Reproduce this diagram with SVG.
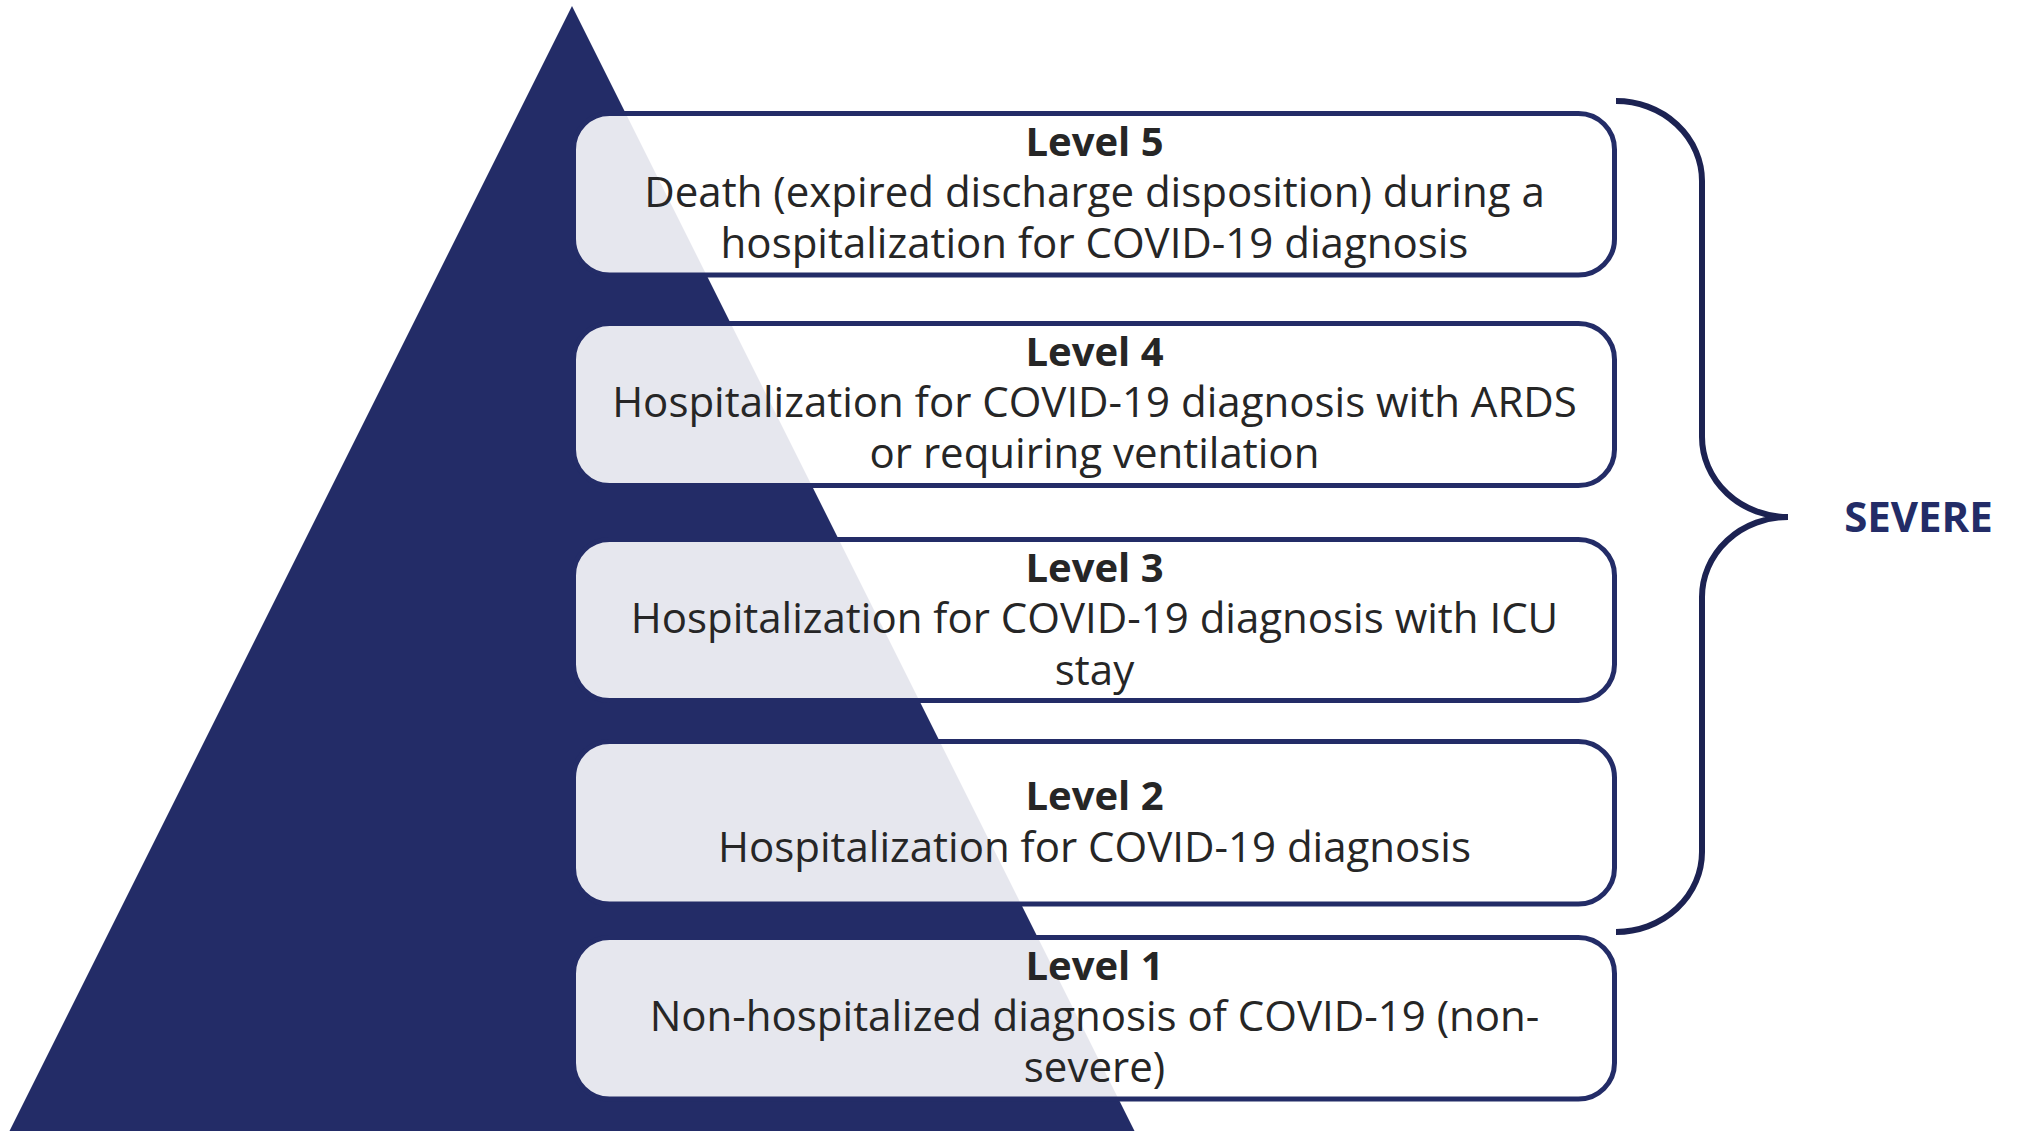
<svg xmlns="http://www.w3.org/2000/svg" width="2022" height="1131" viewBox="0 0 2022 1131">
  <style>
    .box { fill: #ffffff; fill-opacity: 0.89; stroke: #232C67; stroke-width: 5; }
    .t { font-family: "Open Sans", "Liberation Sans", sans-serif; font-size: 42px; fill: #262626; text-anchor: middle; }
    .b { font-weight: bold; font-size: 40px; }
    .brace { fill: none; stroke: #1C2252; stroke-width: 6; stroke-linecap: butt; }
    .sev { font-family: "Open Sans", "Liberation Sans", sans-serif; font-size: 42px; font-weight: bold; fill: #232C67; text-anchor: middle; }
  </style>
  <rect x="0" y="0" width="2022" height="1131" fill="#ffffff"/>
  <g id="pyramid">
    <polygon points="572,6 1134.5,1131 9.5,1131" fill="#232C67"/>
  </g>
  <g id="level5">
    <rect class="box" x="573.5" y="113.5" width="1041" height="161.5" rx="36" ry="36"/>
    <text class="t b" x="1094.5" y="156">Level 5</text>
    <text class="t" x="1094.5" y="207">Death (expired discharge disposition) during a</text>
    <text class="t" x="1094.5" y="258">hospitalization for COVID-19 diagnosis</text>
  </g>
  <g id="level4">
    <rect class="box" x="573.5" y="323.5" width="1041" height="162" rx="36" ry="36"/>
    <text class="t b" x="1094.5" y="366">Level 4</text>
    <text class="t" x="1094.5" y="417">Hospitalization for COVID-19 diagnosis with ARDS</text>
    <text class="t" x="1094.5" y="468">or requiring ventilation</text>
  </g>
  <g id="level3">
    <rect class="box" x="573.5" y="539.5" width="1041" height="161" rx="36" ry="36"/>
    <text class="t b" x="1094.5" y="582">Level 3</text>
    <text class="t" x="1094.5" y="633">Hospitalization for COVID-19 diagnosis with ICU</text>
    <text class="t" x="1094.5" y="685">stay</text>
  </g>
  <g id="level2">
    <rect class="box" x="573.5" y="741.5" width="1041" height="162.5" rx="36" ry="36"/>
    <text class="t b" x="1094.5" y="810">Level 2</text>
    <text class="t" x="1094.5" y="862">Hospitalization for COVID-19 diagnosis</text>
  </g>
  <g id="level1">
    <rect class="box" x="573.5" y="937.5" width="1041" height="161.5" rx="36" ry="36"/>
    <text class="t b" x="1094.5" y="980">Level 1</text>
    <text class="t" x="1094.5" y="1031">Non-hospitalized diagnosis of COVID-19 (non-</text>
    <text class="t" x="1094.5" y="1082">severe)</text>
  </g>
  <g id="connectors">
    <path class="brace" d="M1616,101 A86,80 0 0 1 1702,181 V437 A86,80 0 0 0 1788,517 A86,80 0 0 0 1702,597 V852 A86,80 0 0 1 1616,932"/>
  </g>
  <g id="severe">
    <text class="sev" x="1918.5" y="532">SEVERE</text>
  </g>
</svg>
